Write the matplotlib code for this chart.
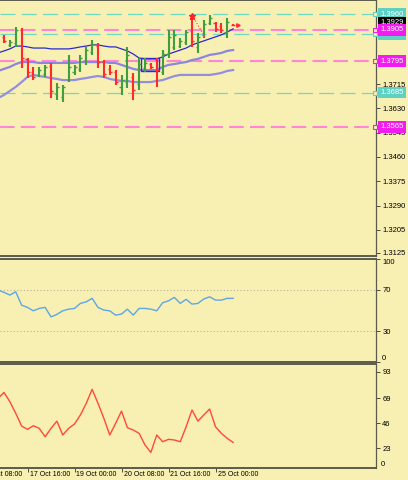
import matplotlib.pyplot as plt
import matplotlib.transforms as mtransforms
from matplotlib.patches import Rectangle
import numpy as np

plt.rcParams['font.family'] = ['Liberation Sans', 'DejaVu Sans']

# H4 bars, index 0..39
opens  = [1.3880, 1.3852, 1.3859, 1.3904, 1.3803, 1.3757, 1.3745, 1.3750, 1.3778, 1.3680,
          1.3670, 1.3730, 1.3757, 1.3768, 1.3796, 1.3827, 1.3848, 1.3792, 1.3768, 1.3757,
          1.3705, 1.3722, 1.3740, 1.3715, 1.3770, 1.3785, 1.3799, 1.3757, 1.3820, 1.3845,
          1.3848, 1.3862, 1.3900, 1.3845, 1.3887, 1.3929, 1.3929, 1.3918, 1.3897, 1.3922]
highs  = [1.3887, 1.3869, 1.3915, 1.3911, 1.3806, 1.3775, 1.3775, 1.3782, 1.3789, 1.3719,
          1.3712, 1.3817, 1.3782, 1.3817, 1.3845, 1.3869, 1.3859, 1.3799, 1.3782, 1.3764,
          1.3747, 1.3845, 1.3754, 1.3806, 1.3806, 1.3789, 1.3806, 1.3834, 1.3904, 1.3904,
          1.3876, 1.3904, 1.3957, 1.3894, 1.3939, 1.3957, 1.3932, 1.3929, 1.3946, 1.3925]
lows   = [1.3859, 1.3845, 1.3845, 1.3771, 1.3736, 1.3729, 1.3740, 1.3740, 1.3666, 1.3659,
          1.3652, 1.3722, 1.3747, 1.3757, 1.3782, 1.3817, 1.3771, 1.3736, 1.3747, 1.3712,
          1.3677, 1.3701, 1.3659, 1.3694, 1.3757, 1.3768, 1.3705, 1.3747, 1.3806, 1.3834,
          1.3841, 1.3852, 1.3845, 1.3824, 1.3876, 1.3922, 1.3897, 1.3894, 1.3876, 1.3918]
closes = [1.3866, 1.3862, 1.3904, 1.3806, 1.3757, 1.3740, 1.3764, 1.3775, 1.3690, 1.3705,
          1.3705, 1.3775, 1.3775, 1.3806, 1.3834, 1.3855, 1.3792, 1.3750, 1.3757, 1.3722,
          1.3729, 1.3817, 1.3694, 1.3785, 1.3789, 1.3775, 1.3764, 1.3820, 1.3880, 1.3887,
          1.3866, 1.3897, 1.3866, 1.3880, 1.3925, 1.3946, 1.3908, 1.3904, 1.3932, 1.3920]

# indicators, index -1..39
bb_upper = [1.3824, 1.3831, 1.3838, 1.3848, 1.3848, 1.3845, 1.3841, 1.3841, 1.3841, 1.3838,
            1.3838, 1.3838, 1.3838, 1.3841, 1.3845, 1.3848, 1.3852, 1.3852, 1.3848, 1.3845,
            1.3845, 1.3838, 1.3831, 1.3820, 1.3806, 1.3803, 1.3803, 1.3803, 1.3810, 1.3820,
            1.3827, 1.3834, 1.3841, 1.3852, 1.3859, 1.3866, 1.3873, 1.3880, 1.3887, 1.3897,
            1.3908]
bb_mid   = [1.3761, 1.3768, 1.3775, 1.3785, 1.3792, 1.3792, 1.3792, 1.3789, 1.3789, 1.3789,
            1.3789, 1.3789, 1.3789, 1.3789, 1.3792, 1.3792, 1.3792, 1.3792, 1.3792, 1.3789,
            1.3789, 1.3782, 1.3775, 1.3768, 1.3764, 1.3764, 1.3764, 1.3764, 1.3775, 1.3782,
            1.3785, 1.3789, 1.3792, 1.3799, 1.3803, 1.3810, 1.3817, 1.3820, 1.3824, 1.3831,
            1.3834]
bb_lower = [1.3666, 1.3677, 1.3691, 1.3705, 1.3722, 1.3740, 1.3747, 1.3743, 1.3740, 1.3736,
            1.3733, 1.3729, 1.3729, 1.3729, 1.3733, 1.3736, 1.3740, 1.3743, 1.3740, 1.3733,
            1.3729, 1.3726, 1.3726, 1.3722, 1.3722, 1.3722, 1.3722, 1.3726, 1.3729, 1.3736,
            1.3743, 1.3747, 1.3747, 1.3747, 1.3747, 1.3747, 1.3747, 1.3750, 1.3754, 1.3761,
            1.3764]
rsi = [69.8, 67.6, 65.0, 68.2, 55.2, 53.0, 49.7, 52.0, 53.0, 43.8,
       46.2, 49.7, 51.3, 52.0, 56.9, 58.4, 61.8, 53.0, 50.4, 49.7,
       45.5, 46.5, 51.3, 45.5, 52.0, 52.0, 51.3, 49.7, 57.5, 59.4,
       62.7, 56.9, 60.8, 56.2, 56.9, 61.1, 63.3, 60.1, 60.1, 61.8,
       61.8]
osc = [68.7, 74.2, 65.6, 54.9, 43.2, 40.2, 43.5, 41.1, 33.4, 41.1,
       47.8, 35.0, 41.1, 45.1, 53.4, 64.1, 77.0, 64.1, 50.3, 35.0,
       45.7, 57.0, 41.7, 39.6, 36.5, 25.8, 19.0, 35.0, 28.8, 31.0,
       30.4, 28.8, 42.6, 58.0, 47.8, 53.4, 58.9, 42.6, 36.5, 31.9,
       28.2]

levels = [1.3960, 1.3890, 1.3905, 1.3795, 1.3685, 1.3565]
level_kind = ['teal', 'teal', 'pink', 'pink', 'teal', 'pink']
last_price = 1.3929
price_ticks = [1.3125, 1.3205, 1.3290, 1.3375, 1.3460, 1.3545, 1.3630, 1.3715]
rsi_ticks = [0, 30, 70, 100]
osc_ticks = [23, 46, 69, 93]
time_pos = [-4, 4, 12, 20, 28, 36]
time_labels = ['14 Oct 08:00', '17 Oct 16:00', '19 Oct 00:00', '20 Oct 08:00',
               '21 Oct 16:00', '25 Oct 00:00']

BG = '#f8efb2'
FRAME = '#5b5b4b'
TEAL_LINE, TEAL_BOX = '#72d8c2', '#5fd0c4'
PINK_LINE, PINK_BOX = '#ff86d6', '#f21cf0'
UP, DOWN = '#3f9f3f', '#ff2b2b'

fig = plt.figure(figsize=(4.08, 4.8), dpi=100)
fig.patch.set_facecolor(BG)
W = 376 / 408
ax = fig.add_axes([0, 1 - 256 / 480, W, 256 / 480])
ax_rsi = fig.add_axes([0, 1 - 362 / 480, W, 103 / 480])
ax_osc = fig.add_axes([0, 1 - 467.5 / 480, W, 103.5 / 480])

xlim = (-4 / 5.875, 372 / 5.875)
for a in (ax, ax_rsi, ax_osc):
    a.set_facecolor(BG)
    a.yaxis.tick_right()
    a.tick_params(axis='y', labelsize=5.5, length=3, width=0.6, color='#333333', pad=1.5)
    a.spines['left'].set_visible(False)
    for s in ('top', 'bottom', 'right'):
        a.spines[s].set_color(FRAME)
    a.spines['top'].set_linewidth(1.4)
    a.spines['bottom'].set_linewidth(1.4)
    a.spines['right'].set_linewidth(0.9)

# main panel
idx = np.arange(len(opens))
ind_x = np.arange(-1, len(opens))
ax.set_ylim(1.31138, 1.4009)
for lv, kind in zip(levels, level_kind):
    if kind == 'teal':
        ax.axhline(lv, color=TEAL_LINE, lw=0.9, dashes=(12, 5), zorder=1)
    else:
        ax.axhline(lv, color=PINK_LINE, lw=1.5, dashes=(7, 3), zorder=1)

ax.plot(ind_x, bb_upper, color='#2a2ad0', lw=0.9, zorder=2)
ax.plot(ind_x, bb_mid, color='#8c86dc', lw=1.6, zorder=2)
ax.plot(ind_x, bb_lower, color='#948edf', lw=1.6, zorder=2)

ax.add_patch(Rectangle((23.3, 1.3761), 3.1, 0.0045, fill=False, ec='#2a2ad0', lw=1, zorder=3))

for i, o, h, l, c in zip(idx, opens, highs, lows, closes):
    col = UP if c >= o else DOWN
    ax.vlines(i, l, h, color=col, lw=1.5, zorder=4)
    ax.hlines(o, i - 0.35, i, color=col, lw=1, zorder=4)
    ax.hlines(c, i, i + 0.35, color=col, lw=1, zorder=4)

ax.plot([32], [1.3953], marker='*', color='#ff2020', ms=5, zorder=5)
ax.plot([32.3, 34.2], [1.3946, 1.3880], color='#ff4040', lw=0.8, ls=':', zorder=5)
ax.plot([39.8], [1.3922], marker='>', color='#ff3030', ms=2.5, zorder=5)

ax.set_yticks(price_ticks)
ax.set_yticklabels(['%.4f' % t for t in price_ticks])
ax.set_xticks([])

trans = mtransforms.blended_transform_factory(ax.transAxes, ax.transData)
def price_box(y, fc):
    ax.plot([0.997], [y], marker='s', ms=3, mfc=BG, mec=fc, mew=0.8,
            transform=trans, clip_on=False, zorder=6)
    ax.text(1.012, y, '%.4f' % y, transform=trans, fontsize=5.5, color='white',
            va='center', ha='left', clip_on=False, zorder=6,
            bbox=dict(boxstyle='square,pad=0.3', fc=fc, ec=fc, lw=0))

price_box(1.3960, TEAL_BOX)
ax.text(1.012, last_price, '%.4f' % last_price, transform=trans, fontsize=5.5,
        color='white', va='center', ha='left', clip_on=False, zorder=6,
        bbox=dict(boxstyle='square,pad=0.3', fc='black', ec='black', lw=0))
for lv, kind in zip(levels, level_kind):
    if lv == 1.3960:
        continue
    price_box(lv, TEAL_BOX if kind == 'teal' else PINK_BOX)

# RSI panel
ax_rsi.set_ylim(0, 100)
ax_rsi.axhline(70, color='#b8b39a', lw=0.8, ls=(0, (1, 2)))
ax_rsi.axhline(30, color='#b8b39a', lw=0.8, ls=(0, (1, 2)))
ax_rsi.plot(ind_x, rsi, color='#5ea6e6', lw=1.0)
ax_rsi.set_yticks(rsi_ticks)
ax_rsi.set_yticklabels([str(t) for t in rsi_ticks])
for lab in ax_rsi.get_yticklabels():
    if lab.get_text() == '100':
        lab.set_va('top')
    elif lab.get_text() == '0':
        lab.set_va('bottom')
ax_rsi.set_xticks([])

# oscillator panel
ax_osc.set_ylim(5.1, 100.3)
ax_osc.plot(ind_x, osc, color='#ff4a3a', lw=1.0)
ax_osc.set_yticks(osc_ticks)
ax_osc.set_yticklabels([str(t) for t in osc_ticks])
ax_osc.text(1.012, 0.0, '0', transform=ax_osc.transAxes, fontsize=5.5,
            va='bottom', ha='left', clip_on=False)
ax_osc.set_xticks(time_pos)
ax_osc.set_xticklabels([])
ax_osc.tick_params(axis='x', length=3, width=0.6, color='#333333')
xtrans = mtransforms.blended_transform_factory(ax_osc.transData, ax_osc.transAxes)
offset = mtransforms.ScaledTranslation(2 / 100, -3 / 100, fig.dpi_scale_trans)
for p, lab in zip(time_pos, time_labels):
    ax_osc.text(p, 0, lab, transform=xtrans + offset, fontsize=5, va='top', ha='left',
                clip_on=False)

for a in (ax, ax_rsi, ax_osc):
    a.set_xlim(*xlim)

fig.savefig('out.png', dpi=100, facecolor=BG)
